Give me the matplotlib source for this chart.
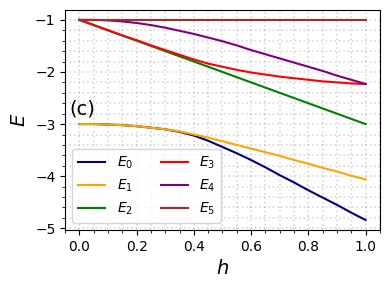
import numpy as np
import matplotlib
matplotlib.use("Agg")
import matplotlib.pyplot as plt

# valeurs (pas de 0.05)
h = [0.00, 0.05, 0.10, 0.15, 0.20, 0.25, 0.30, 0.35, 0.40, 0.45, 0.50,
     0.55, 0.60, 0.65, 0.70, 0.75, 0.80, 0.85, 0.90, 0.95, 1.00]
E0 = [-3.00, -3.00, -3.01, -3.02, -3.04, -3.07, -3.10, -3.15, -3.22, -3.32, -3.44,
      -3.56, -3.69, -3.83, -3.98, -4.12, -4.27, -4.41, -4.55, -4.70, -4.84]
E1 = [-3.00, -3.00, -3.01, -3.02, -3.04, -3.07, -3.10, -3.14, -3.20, -3.26, -3.33,
      -3.40, -3.47, -3.54, -3.61, -3.69, -3.76, -3.84, -3.91, -3.99, -4.06]
E2 = [-1.00, -1.10, -1.20, -1.30, -1.40, -1.50, -1.60, -1.70, -1.80, -1.90, -2.00,
      -2.10, -2.20, -2.30, -2.40, -2.50, -2.60, -2.70, -2.80, -2.90, -3.00]
E3 = [-1.00, -1.10, -1.20, -1.30, -1.39, -1.49, -1.58, -1.67, -1.76, -1.84, -1.90,
      -1.96, -2.01, -2.05, -2.09, -2.12, -2.15, -2.18, -2.20, -2.22, -2.23]
E4 = [-1.00, -1.00, -1.01, -1.03, -1.06, -1.10, -1.15, -1.21, -1.27, -1.34, -1.41,
      -1.49, -1.58, -1.66, -1.74, -1.82, -1.90, -1.98, -2.07, -2.15, -2.23]
E5 = [-1.00] * len(h)

series = [E0, E1, E2, E3, E4, E5]
labels = [r'$E_0$', r'$E_1$', r'$E_2$', r'$E_3$', r'$E_4$', r'$E_5$']
colors = ['navy', 'orange', 'green', 'red', 'purple', 'brown']

fig = plt.figure(figsize=(3.9, 2.9), dpi=100)
ax = fig.add_axes([0.167, 0.207, 0.807, 0.759])

for y, lab, c in zip(series, labels, colors):
    ax.plot(h, y, color=c, label=lab, lw=1.5)

ax.minorticks_on()
ax.grid(which='both', color='gray', alpha=0.3, linestyle=':', linewidth=1.2)
ax.set_xlabel(r'$h$', fontsize=14)
ax.set_ylabel(r'$E$', fontsize=14)
ax.text(0.012, 0.55, '(c)', transform=ax.transAxes, fontsize=14, va='center')
ax.legend(ncol=2, loc='lower left', fontsize=10)

fig.savefig("out.png", dpi=100)
